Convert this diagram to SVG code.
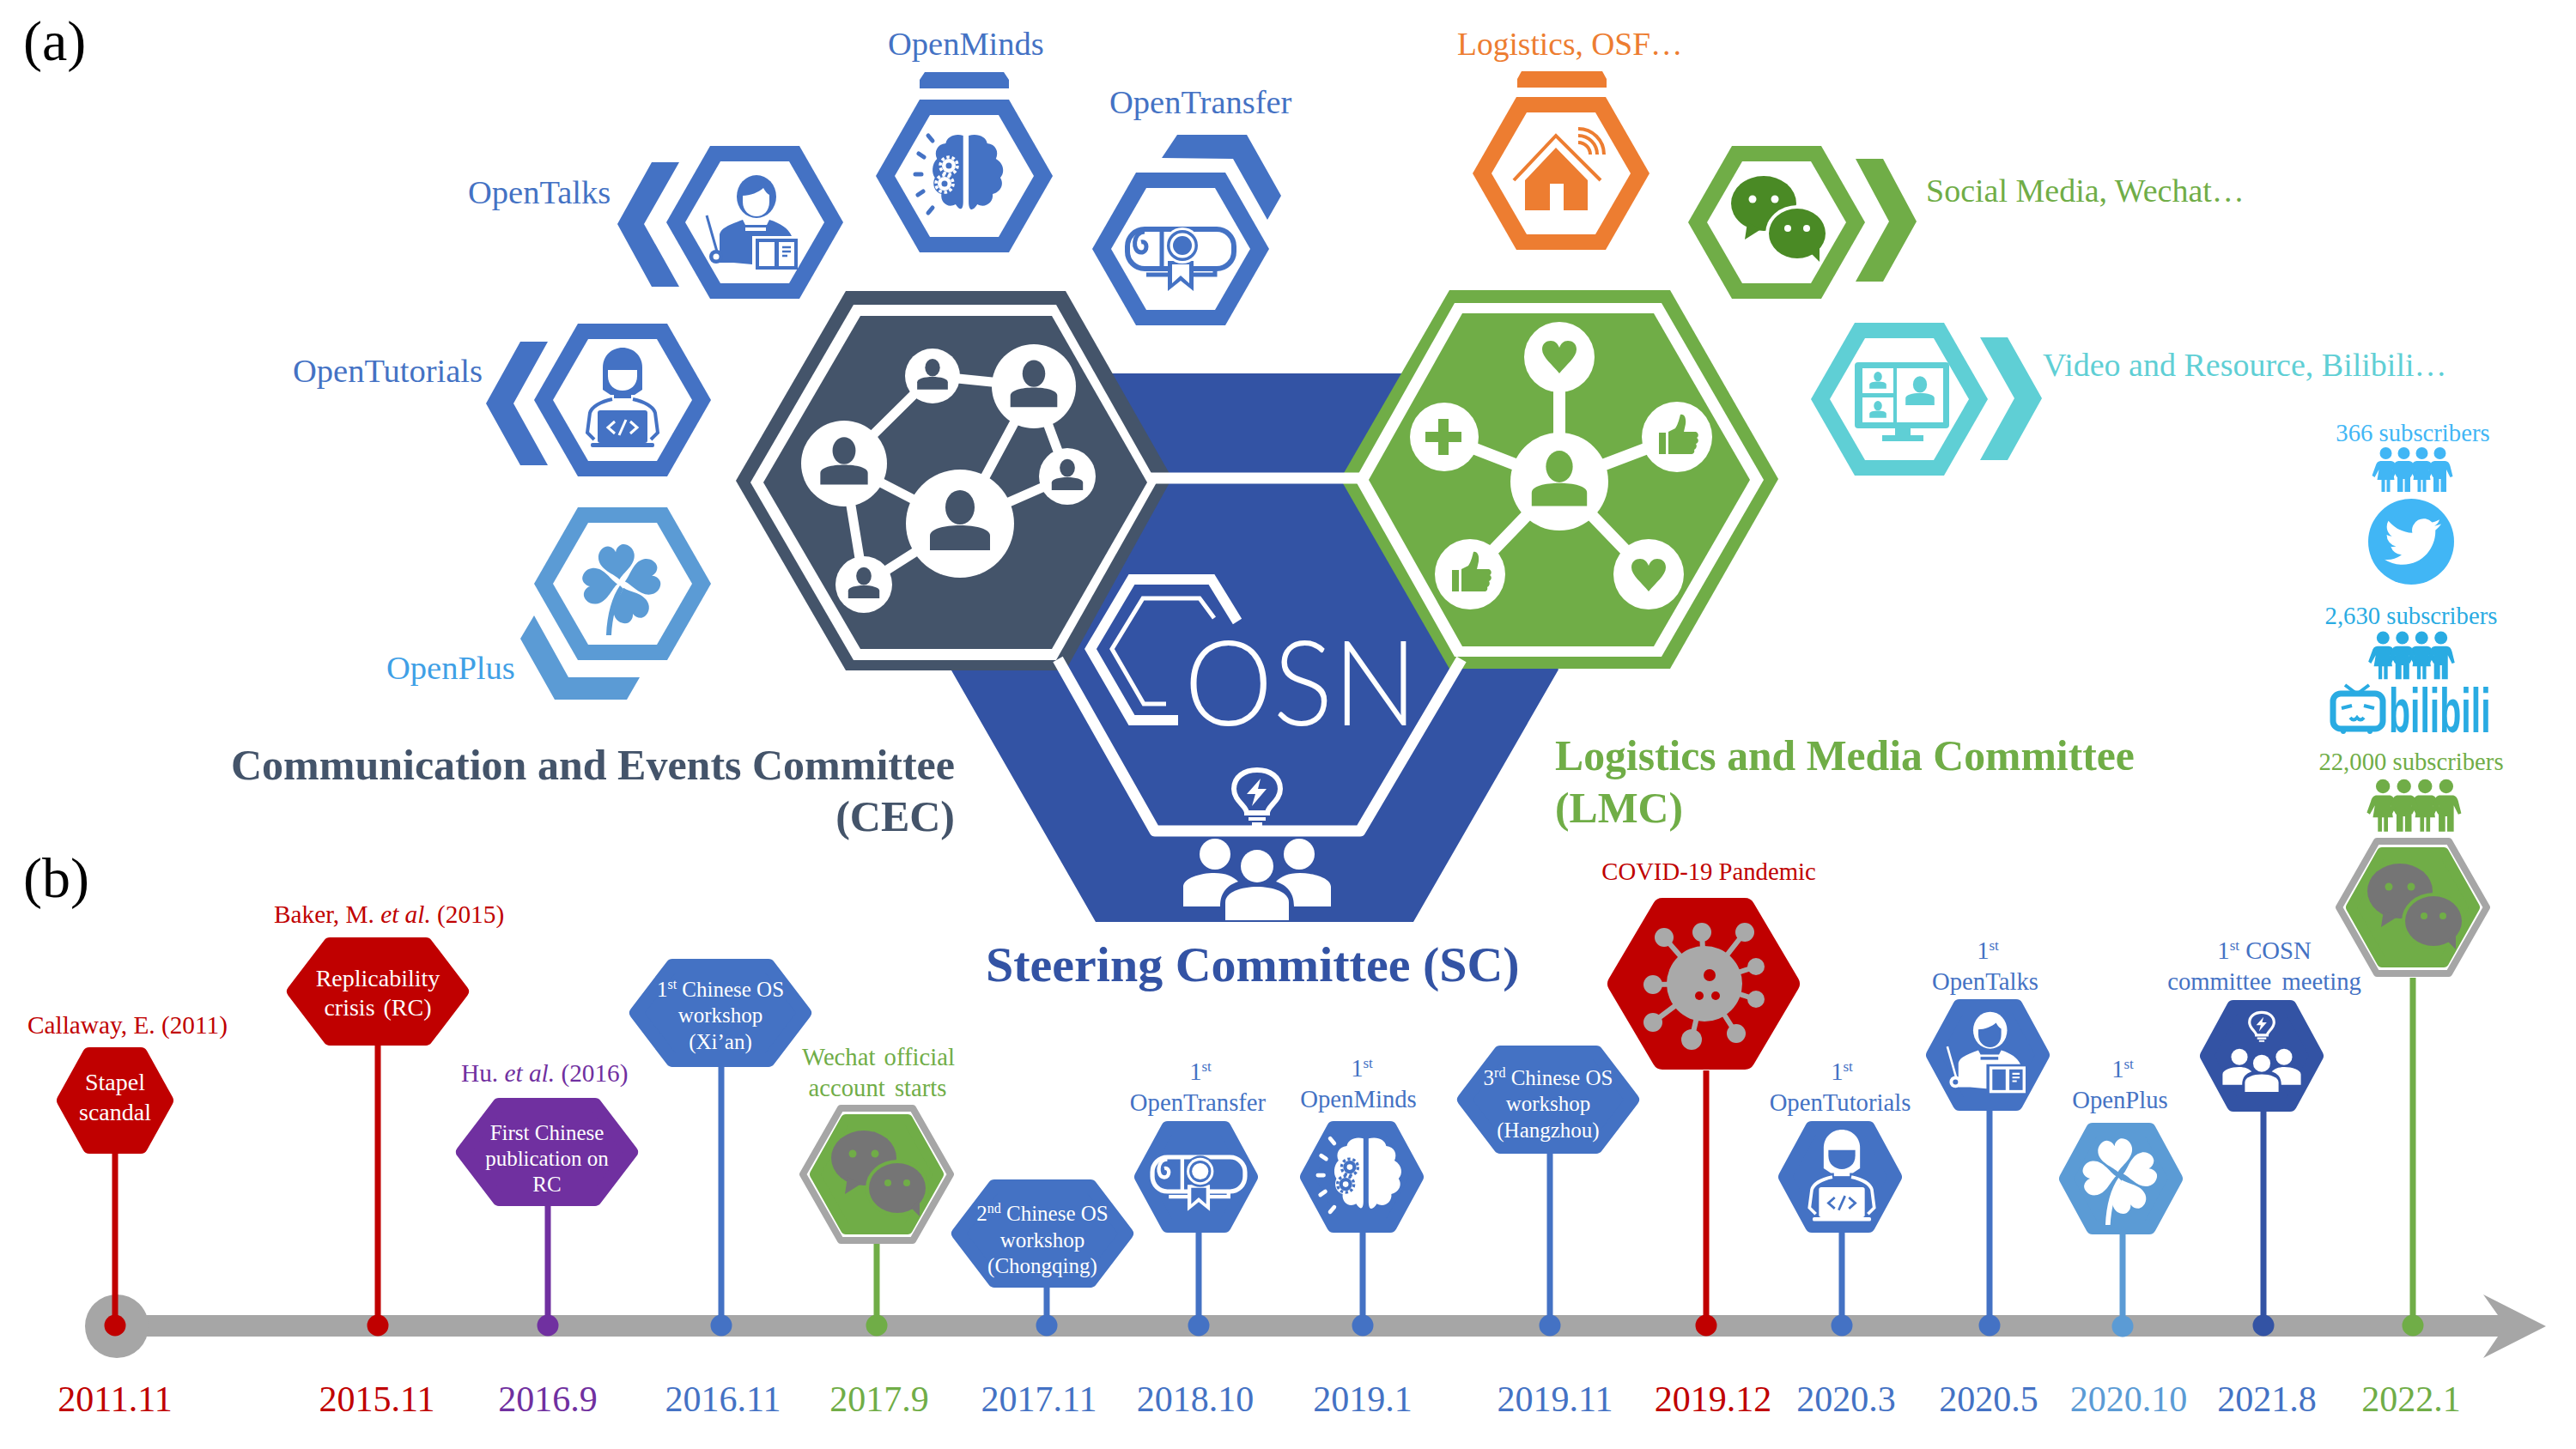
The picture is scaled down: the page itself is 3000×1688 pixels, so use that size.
<svg xmlns="http://www.w3.org/2000/svg" xmlns:xlink="http://www.w3.org/1999/xlink" width="3000" height="1688" viewBox="0 0 3000 1688">
<style>
text{font-family:"Liberation Serif","Times New Roman",serif}
.f{fill:currentColor}.b{fill:var(--bg)}
.fs{fill:none;stroke:currentColor}.bs{fill:none;stroke:var(--bg)}
.l38{font-size:38.5px}.l27{font-size:28.7px}.c29{font-size:29.3px}.l25{font-size:25px;fill:#fff;text-anchor:middle}.l28{font-size:28px;fill:#fff;text-anchor:middle}.d{font-size:42px;text-anchor:middle}
.h{font-weight:bold}.m{text-anchor:middle}
.blue{fill:#4472C4}.red{fill:#C00000}.pur{fill:#7030A0}.grn{fill:#70AD47}.lb{fill:#5B9BD5}.nav{fill:#3353A4}.org{fill:#ED7D31}.teal{fill:#5FCFD5}.drk{fill:#44546A}
.sk-red{stroke:#C00000}.sk-pur{stroke:#7030A0}.sk-blue{stroke:#4472C4}.sk-grn{stroke:#70AD47}.sk-lb{stroke:#5B9BD5}.sk-nav{stroke:#3353A4}
.rnd{stroke-width:16;stroke-linejoin:round}
.stem{stroke-width:7;fill:none}
.edge{stroke:#fff;stroke-width:11;fill:none}
.edge2{stroke:#fff;stroke-width:14;fill:none}
.onw{--bg:#fff}
</style>
<defs>
<polygon id="hO" points="-103,0 -52,-89 52,-89 103,0 52,89 -52,89"/>
<polygon id="hI" points="-81,0 -40,-71 40,-71 81,0 40,71 -40,71" fill="#fff"/>
<polygon id="hA" points="-98,0 -56,-55 56,-55 98,0 56,55 -56,55"/>
<polygon id="hB" points="-64,0 -33,-57 33,-57 64,0 33,57 -33,57"/>
<g id="p"><ellipse class="f" cx="0" cy="-19" rx="17" ry="20"/><path class="f" d="M-35,31V14C-35,6-18,2 0,2C18,2 35,6 35,14V31Z"/></g>
<path id="heart" d="M0,21C-8,11-20,2-20,-7C-20,-14-15,-17-10,-17C-5,-17-2,-14 0,-9C2,-14 5,-17 10,-17C15,-17 20,-14 20,-7C20,2 8,11 0,21Z"/>
<g id="thumb"><rect x="-21" y="-7" width="8" height="25"/><path d="M-10,-8L-2,-12C2,-18 3,-25 4,-28C8,-29 11,-25 10,-17L8,-8H22C26,-6 25,-2 23,-1C26,1 25,5 22,6C24,9 22,12 20,13C21,16 19,18 17,18H-10Z"/></g>
<path id="leaf" class="f" d="M0,-3C-5,-10-21,-17-21,-30C-21,-39-13,-44-8,-43C-4,-42-1,-39 0,-35C1,-39 4,-42 8,-43C13,-44 21,-39 21,-30C21,-17 5,-10 0,-3Z"/>
<g id="gear"><circle class="b" r="8"/><circle class="bs" r="10" stroke-width="3.5" stroke-dasharray="3.5 2.8"/><circle class="f" r="3.5"/></g>
<g id="i-teacher">
<ellipse class="f" cx="2" cy="-30" rx="23" ry="25"/>
<path class="b" d="M-14,-31C-6,-31 5,-35 10,-40C12,-36 15,-33 17,-32V-24C17,-13 10,-7 2,-7C-6,-7-14,-13-14,-24Z"/>
<path class="f" d="M-41,47V16C-41,7-30,3-14,-3L-11,3H14L17,-3C30,1 39,7 43,16H-3V49L-25,47Z"/>
<path class="b" d="M-11,6H13V10H-11Z"/>
<path class="fs" stroke-width="3" d="M-56,-8L-44,34"/>
<circle cx="-45" cy="40" r="8" class="f"/><circle cx="-45" cy="40" r="3.5" class="b"/>
<rect x="1" y="19" width="49" height="36" class="f"/>
<rect x="5" y="23" width="18" height="28" class="b"/><rect x="28" y="23" width="18" height="28" class="b"/>
<path class="fs" stroke-width="2.5" d="M32,29H42M32,34H42M32,39H38"/>
</g>
<g id="i-brain">
<g transform="scale(1.27,1)"><path class="f" d="M4,-47C12,-50 20,-46 21,-38C29,-37 32,-28 29,-20C37,-14 37,-3 33,2C37,10 33,19 26,21C27,31 19,38 12,33C8,41 4,42 4,30Z"/>
<path class="f" d="M-1,-47C-8,-50-16,-46-17,-38C-25,-37-28,-28-25,-20C-30,-14-30,-3-27,2C-30,10-27,19-21,21C-22,31-15,38-8,33C-4,41-1,40-1,30Z"/></g>
<use href="#gear" x="-18" y="-12"/><use href="#gear" x="-23" y="9"/>
<g class="fs" stroke-width="5" stroke-linecap="round"><path d="M-42,-47L-37,-41M-53,-26L-47,-22M-57,-2H-50M-54,22L-48,18M-42,43L-37,37"/></g>
</g>
<g id="i-diploma">
<rect class="fs" x="-62" y="-23" width="124" height="46" rx="20" stroke-width="6"/>
<path class="fs" stroke-width="5" d="M-42,-20C-56,-20-57,4-46,4C-38,4-38,-10-46,-8"/>
<path class="fs" stroke-width="5" d="M-22,-23V23M40,23V30H-40"/>
<polygon class="f" points="-15,14 15,14 15,49 0,37 -15,49"/>
<polygon class="b" points="-10,18 10,18 10,40 0,31 -10,40"/>
<circle class="b" cx="2" cy="-4" r="21"/>
<circle class="f" cx="2" cy="-4" r="18"/><circle class="b" cx="2" cy="-4" r="14.5"/><circle class="f" cx="2" cy="-4" r="11"/>
</g>
<g id="i-tutor">
<path class="f" d="M-23,-12V-38C-23,-52-12,-61 0,-61C12,-61 23,-52 23,-38V-12L14,-6H-14Z"/>
<path class="b" d="M-17,-35H17V-28C17,-17 9,-11 0,-11C-9,-11-17,-17-17,-28Z"/>
<rect class="f" x="-10" y="-8" width="20" height="6"/>
<path class="fs" stroke-width="4" d="M-12,-1C-26,2-36,8-38,15L-41,38L-33,46M12,-1C26,2 36,8 38,15L41,38L33,46"/>
<rect class="f" x="-29" y="12" width="58" height="38" rx="3"/><rect class="f" x="-37" y="50" width="74" height="5" rx="2"/>
<path class="bs" stroke-width="3" d="M-9,25L-17,32L-9,39M9,25L17,32L9,39M-4,41L4,23"/>
</g>
<g id="i-clover">
<path class="f" d="M-3,2C-12,15-18,35-19,60H-13C-12,40-7,20 1,6Z"/>
<use href="#leaf" transform="translate(-3,-2) rotate(-8)"/>
<use href="#leaf" transform="translate(0,-2) rotate(78)"/>
<use href="#leaf" transform="translate(0,2) rotate(160)"/>
<use href="#leaf" transform="translate(-3,0) rotate(265)"/>
</g>
<g id="i-wechat">
<ellipse class="f" cx="-15" cy="-22" rx="38" ry="32"/><path class="f" d="M-34,0L-37,20L-18,8Z"/>
<ellipse class="b" cx="24" cy="13" rx="37" ry="33"/>
<ellipse class="f" cx="24" cy="13" rx="33" ry="29"/><path class="f" d="M40,36L50,46L50,26Z"/>
<circle class="b" cx="-28" cy="-27" r="4.5"/><circle class="b" cx="-2" cy="-27" r="4.5"/><circle class="b" cx="13" cy="7" r="4"/><circle class="b" cx="35" cy="7" r="4"/>
</g>
<g id="i-bulb">
<path class="fs" stroke-width="6" d="M-12,-38C-12,-46-27,-52-27,-66C-27,-80-15,-88 0,-88C15,-88 27,-80 27,-66C27,-52 12,-46 12,-38Z"/>
<path class="f" d="M4,-78L-12,-60H-2L-6,-46L11,-66H1Z"/>
<path class="fs" stroke-width="4" d="M-10,-31H10M-6,-25H6"/>
<circle class="f" cx="-49" cy="10" r="18"/><circle class="f" cx="49" cy="10" r="18"/>
<path class="f" d="M-86,71V48C-86,38-66,32-50,32C-36,32-28,36-22,42C-34,46-43,54-43,71Z"/>
<path class="f" d="M86,71V48C86,38 66,32 50,32C36,32 28,36 22,42C34,46 43,54 43,71Z"/>
<circle class="f" cx="0" cy="24" r="19"/>
<path class="f" d="M-37,87V66C-37,54-18,48 0,48C18,48 37,54 37,66V87Z"/>
</g>
<path id="fem" class="f" d="M-6,9C-9,9-11,11-12,15L-16,26L-13,28L-8,19L-10,31H-5V45H-1V31H1V45H5V31H10L8,19L13,28L16,26L12,15C11,11 9,9 6,9Z"/>
<path id="mal" class="f" d="M-6,9C-9,9-11,11-12,15L-15,27L-12,28L-7.5,19V45H-1V30H1V45H7.5V19L12,28L15,27L12,15C11,11 9,9 6,9Z"/>
<g id="ppl">
<circle class="f" cx="-31.5" cy="0" r="7"/><circle class="f" cx="-10.5" cy="0" r="7"/><circle class="f" cx="10.5" cy="0" r="7"/><circle class="f" cx="31.5" cy="0" r="7"/>
<use href="#fem" x="-31.5"/><use href="#fem" x="10.5"/><use href="#mal" x="-10.5"/><use href="#mal" x="31.5"/>
</g>
</defs>
<rect width="3000" height="1688" fill="#fff"/>
<text x="27" y="70" font-size="66">(a)</text>
<text x="27" y="1045" font-size="66">(b)</text>

<g id="sc-node">
<polygon class="nav" points="1293,435 1632,435 1700,600 1815,780 1646,1074 1276,1074 1108,781 1220,600"/>
</g>
<g id="cec-node">
<polygon class="drk" points="857,560 985,339 1241,339 1365,557 1241,781 985,781"/>
<polygon fill="#fff" points="874,562 994,355 1230,355 1347,562 1230,769 994,769"/>
<polygon class="drk" points="889,562 1002,368 1225,368 1336,562 1225,756 1002,756"/>
<g class="edge"><path d="M983,540L1086,438L1204,450L1243,555L1118,610L983,540L1006,681L1118,610L1204,450"/></g>
<g fill="#fff"><circle cx="1118" cy="610" r="63"/><circle cx="983" cy="540" r="50"/><circle cx="1086" cy="438" r="32"/><circle cx="1204" cy="450" r="49"/><circle cx="1243" cy="555" r="33"/><circle cx="1006" cy="681" r="33"/></g>
<g style="color:#44546A">
<use href="#p" transform="translate(1118,610)"/>
<use href="#p" transform="translate(983,540) scale(.79)"/>
<use href="#p" transform="translate(1086,438) scale(.51)"/>
<use href="#p" transform="translate(1204,450) scale(.78)"/>
<use href="#p" transform="translate(1243,555) scale(.52)"/>
<use href="#p" transform="translate(1006,681) scale(.52)"/>
</g>
</g>
<g id="lmc-node">
<polygon class="grn" points="1561,558 1688,338 1945,338 2071,558 1945,779 1688,779"/>
<polygon fill="#fff" points="1578,559 1694,353 1935,353 2054,559 1935,765 1694,765"/>
<polygon class="grn" points="1594,559 1703,365 1926,365 2038,559 1926,753 1703,753"/>
<path class="edge2" d="M1816,416V561M1682,509L1816,561L1953,509M1712,669L1816,561L1920,669"/>
<g fill="#fff"><circle cx="1816" cy="561" r="57"/><circle cx="1816" cy="416" r="41"/><circle cx="1682" cy="509" r="40"/><circle cx="1953" cy="509" r="41"/><circle cx="1712" cy="669" r="41"/><circle cx="1920" cy="669" r="41"/></g>
<g class="grn" style="color:#70AD47">
<use href="#p" transform="translate(1816,561) scale(.92)"/>
<use href="#heart" transform="translate(1816,414)"/>
<use href="#heart" transform="translate(1920,668)"/>
<use href="#thumb" transform="translate(1953,511)"/>
<use href="#thumb" transform="translate(1712,671)"/>
<path d="M1675,488h12v15h15v12h-15v15h-12v-15h-15v-12h15z"/>
</g>
</g>
<g id="cosn-logo" fill="none" stroke="#fff">
<path stroke-width="13" d="M1340,557H1586"/>
<path stroke-width="13" stroke-linejoin="round" d="M1232,768L1345,968H1584L1702,768"/>
<path stroke-width="12" d="M1441,724L1411,675H1318L1270,756L1318,839H1372"/>
<path stroke-width="5" d="M1414,720L1397,697H1331L1295,756L1332,820H1358"/>
<text x="1379" y="845" font-size="138" textLength="272" lengthAdjust="spacingAndGlyphs" fill="#fff" stroke="none" style="font-family:Lato,'Open Sans',sans-serif;font-weight:300">OSN</text>
<use href="#i-bulb" transform="translate(1464,985)" stroke="none" style="color:#fff;--bg:#3353A4"/>
</g>
<text class="h drk" x="1112" y="908" font-size="50" text-anchor="end">Communication and Events Committee</text>
<text class="h drk" x="1112" y="968" font-size="50" text-anchor="end">(CEC)</text>
<text class="h grn" x="1821" y="897" font-size="49.7" dx="-10">Logistics and Media Committee</text>
<text class="h grn" x="1811" y="958" font-size="49.7">(LMC)</text>
<text class="h nav" x="1148" y="1143" font-size="58">Steering Committee (SC)</text>

<g id="openminds" class="blue onw" style="color:#4472C4">
<polygon points="1071,93 1077,84 1169,84 1175,93 1175,103 1071,103"/>
<use href="#hO" x="1123" y="205"/><use href="#hI" x="1123" y="205"/>
<use href="#i-brain" transform="translate(1123,205)"/>
<text class="l38 blue" x="1034" y="64">OpenMinds</text>
</g>
<g id="opentalks" class="blue onw" style="color:#4472C4">
<polygon points="791,189 759,189 719,261 759,334 791,334 750,261"/>
<use href="#hO" x="879" y="259"/><use href="#hI" x="879" y="259"/>
<use href="#i-teacher" transform="translate(879,259)"/>
<text class="l38 blue" x="545" y="237">OpenTalks</text>
</g>
<g id="opentransfer" class="blue onw" style="color:#4472C4">
<polygon points="1353,184 1371,157 1452,157 1492,228 1476,256 1436,185"/>
<use href="#hO" x="1375" y="290"/><use href="#hI" x="1375" y="290"/>
<use href="#i-diploma" transform="translate(1375,290)"/>
<text class="l38 blue" x="1292" y="132">OpenTransfer</text>
</g>
<g id="opentutorials" class="blue onw" style="color:#4472C4">
<polygon points="638,398 606,398 566,470 606,542 638,542 598,470"/>
<use href="#hO" x="725" y="466"/><use href="#hI" x="725" y="466"/>
<use href="#i-tutor" transform="translate(725,466)"/>
<text class="l38 blue" x="341" y="445">OpenTutorials</text>
</g>
<g id="openplus" class="lb onw" style="color:#5B9BD5">
<polygon points="622,717 606,744 646,815 730,815 745,789 662,789"/>
<use href="#hO" x="725" y="680"/><use href="#hI" x="725" y="680"/>
<use href="#i-clover" transform="translate(725,680)"/>
<text class="l38" x="450" y="791" fill="#3FA0E6">OpenPlus</text>
</g>
<g id="logistics" class="org onw" style="color:#ED7D31">
<polygon points="1767,92 1772,83 1866,83 1871,92 1871,102 1767,102"/>
<use href="#hO" x="1818" y="202"/><use href="#hI" x="1818" y="202"/>
<g transform="translate(1818,202)">
<path class="f" d="M-42,8L-6,-30L31,8V43H3V12H-13V43H-42Z"/>
<path class="fs" stroke-width="4" d="M-55,8L-6,-44L46,8"/>
<path class="fs" stroke-width="4" d="M20,-36A14,14 0 0 1 34,-22M20,-44A22,22 0 0 1 42,-22M20,-52A30,30 0 0 1 50,-22"/>
</g>
<text class="org" x="1697" y="64" style="font-size:37.5px">Logistics, OSF…</text>
</g>
<g id="social" class="grn" style="color:#4A8A25;--bg:#fff">
<polygon points="2161,185 2193,185 2232,258 2193,328 2161,328 2200,258"/>
<use href="#hO" x="2069" y="259"/><use href="#hI" x="2069" y="259"/>
<use href="#i-wechat" transform="translate(2069,259)"/>
<text class="grn" x="2243" y="235" style="font-size:38px">Social Media, Wechat…</text>
</g>
<g id="video" class="teal onw" style="color:#5FCFD5">
<polygon points="2306,393 2338,393 2378,464 2338,536 2306,536 2346,464"/>
<use href="#hO" x="2212" y="465"/><use href="#hI" x="2212" y="465"/>
<g transform="translate(2212,465)">
<rect class="f" x="-52" y="-43" width="110" height="77" rx="4"/>
<rect class="b" x="-43" y="-36" width="36" height="29"/><rect class="b" x="-43" y="-2" width="36" height="29"/><rect class="b" x="-3" y="-36" width="54" height="63"/>
<use href="#p" transform="translate(-25,-21) scale(.28)"/><use href="#p" transform="translate(-25,13) scale(.28)"/><use href="#p" transform="translate(24,-8) scale(.48)"/>
<rect class="f" x="-5" y="34" width="18" height="9"/><rect class="f" x="-20" y="42" width="48" height="7"/>
</g>
<text class="teal" x="2379" y="438" style="font-size:38px">Video and Resource, Bilibili…</text>
</g>

<g id="twitter">
<text class="l27 m" x="2810" y="514" fill="#41B6F5">366 subscribers</text>
<use href="#ppl" transform="translate(2810,528)" style="color:#41B6F5"/>
<circle cx="2808" cy="631" r="50" fill="#41B6F5"/>
<path fill="#fff" transform="translate(2777,598) scale(2.75)" d="M23.953 4.57a10 10 0 01-2.825.775 4.958 4.958 0 002.163-2.723c-.951.555-2.005.959-3.127 1.184a4.92 4.92 0 00-8.384 4.482C7.69 8.095 4.067 6.13 1.64 3.162a4.822 4.822 0 00-.666 2.475c0 1.71.87 3.213 2.188 4.096a4.904 4.904 0 01-2.228-.616v.06a4.923 4.923 0 003.946 4.827 4.996 4.996 0 01-2.212.085 4.936 4.936 0 004.604 3.417 9.867 9.867 0 01-6.102 2.105c-.39 0-.779-.023-1.17-.067a13.995 13.995 0 007.557 2.209c9.053 0 13.998-7.496 13.998-13.985 0-.21 0-.42-.015-.63A9.935 9.935 0 0024 4.59z"/>
</g>
<g id="bilibili">
<text class="l27 m" x="2808" y="727" fill="#29ABE2">2,630 subscribers</text>
<use href="#ppl" transform="translate(2809,743) scale(1.07)" style="color:#29ABE2"/>
<rect x="2717" y="808" width="58" height="41" rx="9" fill="none" stroke="#29ABE2" stroke-width="7"/>
<path fill="none" stroke="#29ABE2" stroke-width="4" d="M2731,798L2743,807M2759,798L2747,807M2727,825L2739,822M2765,825L2753,822M2737,836Q2741,841 2745,836Q2749,841 2753,836"/>
<circle cx="2729" cy="852" r="3" fill="#29ABE2"/><circle cx="2760" cy="852" r="3" fill="#29ABE2"/>
<text transform="translate(2782,853) scale(.57,1)" font-size="72" fill="#29ABE2" style="font-family:'Liberation Sans',Arial,sans-serif;font-weight:bold">bilibili</text>
</g>
<g id="wechat-count">
<text class="l27 m grn" x="2808" y="897">22,000 subscribers</text>
<use href="#ppl" transform="translate(2812,916) scale(1.17)" style="color:#70AD47"/>
</g>

<g id="connectors">
<polygon fill="#A6A6A6" points="136,1532 2909,1532 2892,1508 2965,1545 2892,1582 2909,1557 136,1557"/>
<circle cx="136" cy="1545" r="37" fill="#A6A6A6"/>
<g class="stem">
<path class="sk-red" d="M134,1344V1544M440,1218V1544M1987,1247V1544"/>
<path class="sk-pur" d="M638,1404V1544"/>
<path class="sk-blue" d="M840,1243V1544M1219,1500V1544M1396,1436V1544M1587,1436V1544M1805,1343V1544M2145,1435V1544M2317,1293V1544"/>
<path class="sk-grn" d="M1021,1449V1544M2810,1139V1544"/>
<path class="sk-lb" d="M2472,1438V1544"/>
<path class="sk-nav" d="M2636,1294V1544"/>
</g>
<g class="red"><circle cx="134" cy="1544" r="12.5"/><circle cx="440" cy="1544" r="12.5"/><circle cx="1987" cy="1544" r="12.5"/></g>
<circle class="pur" cx="638" cy="1544" r="12.5"/>
<g class="blue"><circle cx="840" cy="1544" r="12.5"/><circle cx="1219" cy="1544" r="12.5"/><circle cx="1396" cy="1544" r="12.5"/><circle cx="1587" cy="1544" r="12.5"/><circle cx="1805" cy="1544" r="12.5"/><circle cx="2145" cy="1544" r="12.5"/><circle cx="2317" cy="1544" r="12.5"/></g>
<g class="grn"><circle cx="1021" cy="1544" r="12.5"/><circle cx="2810" cy="1544" r="12.5"/></g>
<circle class="lb" cx="2472" cy="1545" r="12.5"/>
<circle class="nav" cx="2636" cy="1544" r="12.5"/>
</g>

<g id="t2011">
<polygon class="red sk-red rnd" points="-60,0 -30,-54 30,-54 60,0 30,54 -30,54" transform="translate(134,1282)"/>
<text class="l28" x="134" y="1270">Stapel</text><text class="l28" x="134" y="1305">scandal</text>
<text class="c29 red" x="32" y="1204">Callaway, E. (2011)</text>
<text class="d red" x="134" y="1644">2011.11</text>
</g>
<g id="t2015">
<use href="#hA" class="red sk-red rnd" x="440" y="1155"/>
<text class="l28" x="440" y="1149">Replicability</text><text class="l28" x="440" y="1183" word-spacing="3">crisis (RC)</text>
<text class="c29 red" x="319" y="1075">Baker, M. <tspan font-style="italic">et al.</tspan> (2015)</text>
<text class="d red" x="439" y="1644">2015.11</text>
</g>
<g id="t2016a">
<use href="#hA" class="pur sk-pur rnd" x="637" y="1342"/>
<text class="l25" x="637" y="1328">First Chinese</text><text class="l25" x="637" y="1358">publication on</text><text class="l25" x="637" y="1388">RC</text>
<text class="c29 pur" x="537" y="1260">Hu. <tspan font-style="italic">et al.</tspan> (2016)</text>
<text class="d pur" x="638" y="1644">2016.9</text>
</g>
<g id="t2016b">
<use href="#hA" class="blue sk-blue rnd" x="839" y="1180"/>
<text class="l25" x="839" y="1161">1<tspan font-size="16" dy="-9">st</tspan><tspan dy="9"> Chinese OS</tspan></text><text class="l25" x="839" y="1191">workshop</text><text class="l25" x="839" y="1222">(Xi’an)</text>
<text class="d blue" x="842" y="1644">2016.11</text>
</g>
<g id="t2017a" style="color:#757575;--bg:#70AD47">
<polygon fill="#fff" stroke="#A6A6A6" stroke-width="8" stroke-linejoin="round" points="-86,0 -42,-77 42,-77 86,0 42,77 -42,77" transform="translate(1021,1368)"/>
<polygon class="grn" stroke="#70AD47" stroke-width="12" stroke-linejoin="round" points="-72,0 -36,-64 36,-64 72,0 36,64 -36,64" transform="translate(1021,1368)"/>
<use href="#i-wechat" transform="translate(1021,1371)"/>
<text class="l27 m grn" x="1023" y="1241" word-spacing="3">Wechat official</text><text class="l27 m grn" x="1022" y="1277" word-spacing="4">account starts</text>
<text class="d grn" x="1024" y="1644">2017.9</text>
</g>
<g id="t2017b">
<use href="#hA" class="blue sk-blue rnd" x="1214" y="1437"/>
<text class="l25" x="1214" y="1422">2<tspan font-size="16" dy="-9">nd</tspan><tspan dy="9"> Chinese OS</tspan></text><text class="l25" x="1214" y="1453">workshop</text><text class="l25" x="1214" y="1483">(Chongqing)</text>
<text class="d blue" x="1210" y="1644">2017.11</text>
</g>
<g id="t2018" style="color:#fff;--bg:#4472C4">
<use href="#hB" class="blue sk-blue rnd" x="1393" y="1371"/>
<use href="#i-diploma" transform="translate(1396,1368) scale(.87)"/>
<text class="l27 m blue" x="1398" y="1258">1<tspan font-size="17" dy="-10">st</tspan></text>
<text class="l27 m blue" x="1395" y="1294">OpenTransfer</text>
<text class="d blue" x="1392" y="1644">2018.10</text>
</g>
<g id="t2019a" style="color:#fff;--bg:#4472C4">
<use href="#hB" class="blue sk-blue rnd" x="1586" y="1371"/>
<use href="#i-brain" transform="translate(1589,1371) scale(.95)"/>
<text class="l27 m blue" x="1586" y="1254">1<tspan font-size="17" dy="-10">st</tspan></text>
<text class="l27 m blue" x="1582" y="1290">OpenMinds</text>
<text class="d blue" x="1587" y="1644">2019.1</text>
</g>
<g id="t2019b">
<use href="#hA" class="blue sk-blue rnd" x="1803" y="1281"/>
<text class="l25" x="1803" y="1264">3<tspan font-size="16" dy="-9">rd</tspan><tspan dy="9"> Chinese OS</tspan></text><text class="l25" x="1803" y="1294">workshop</text><text class="l25" x="1803" y="1325">(Hangzhou)</text>
<text class="d blue" x="1811" y="1644">2019.11</text>
</g>
<g id="t2019c">
<polygon class="red" stroke="#C00000" stroke-width="24" stroke-linejoin="round" points="-100,0 -48,-88 48,-88 100,0 48,88 -48,88" transform="translate(1984,1146)"/>
<g transform="translate(1985,1146)" fill="#A9A9A9">
<path stroke="#A9A9A9" stroke-width="6" d="M0,0L-47,-54M0,0L-3,-60M0,0L-60,1M0,0L-60,45M0,0L-15,65M0,0L47,-60M0,0L60,-20M0,0L60,18M0,0L37,58"/>
<circle r="44"/>
<circle cx="-47" cy="-54" r="11"/><circle cx="-3" cy="-60" r="11"/><circle cx="-60" cy="1" r="11"/><circle cx="-60" cy="45" r="11"/><circle cx="-15" cy="65" r="12"/><circle cx="47" cy="-60" r="11"/><circle cx="60" cy="-20" r="10"/><circle cx="60" cy="18" r="10"/><circle cx="37" cy="58" r="11"/>
<g fill="#C00000"><circle cx="6" cy="-10" r="7"/><circle cx="-6" cy="14" r="5"/><circle cx="13" cy="14" r="5"/></g>
</g>
<text class="l27 m red" x="1990" y="1025">COVID-19 Pandemic</text>
<text class="d red" x="1995" y="1644">2019.12</text>
</g>
<g id="t2020a" style="color:#fff;--bg:#4472C4">
<use href="#hB" class="blue sk-blue rnd" x="2143" y="1371"/>
<use href="#i-tutor" transform="translate(2145,1372) scale(.92)"/>
<text class="l27 m blue" x="2145" y="1258">1<tspan font-size="17" dy="-10">st</tspan></text>
<text class="l27 m blue" x="2143" y="1294">OpenTutorials</text>
<text class="d blue" x="2150" y="1644">2020.3</text>
</g>
<g id="t2020b" style="color:#fff;--bg:#4472C4">
<use href="#hB" class="blue sk-blue rnd" x="2315" y="1229"/>
<use href="#i-teacher" transform="translate(2316,1226) scale(.86)"/>
<text class="l27 m blue" x="2315" y="1117">1<tspan font-size="17" dy="-10">st</tspan></text>
<text class="l27 m blue" x="2312" y="1153">OpenTalks</text>
<text class="d blue" x="2316" y="1644">2020.5</text>
</g>
<g id="t2020c" style="color:#fff;--bg:#5B9BD5">
<use href="#hB" class="lb sk-lb rnd" x="2470" y="1373"/>
<use href="#i-clover" transform="translate(2470,1370) scale(.95)"/>
<text class="l27 m blue" x="2472" y="1255">1<tspan font-size="17" dy="-10">st</tspan></text>
<text class="l27 m blue" x="2469" y="1291">OpenPlus</text>
<text class="d lb" x="2479" y="1644">2020.10</text>
</g>
<g id="t2021" style="color:#fff;--bg:#3353A4">
<use href="#hB" class="nav sk-nav rnd" x="2634" y="1230"/>
<use href="#i-bulb" transform="translate(2634,1226) scale(.53)"/>
<text class="l27 m blue" x="2637" y="1117">1<tspan font-size="17" dy="-10">st</tspan><tspan dy="10"> COSN</tspan></text>
<text class="l27 m blue" x="2637" y="1153" word-spacing="5">committee meeting</text>
<text class="d blue" x="2640" y="1644">2021.8</text>
</g>
<g id="t2022" style="color:#757575;--bg:#70AD47">
<polygon fill="#fff" stroke="#A6A6A6" stroke-width="8" stroke-linejoin="round" points="-86,0 -42,-77 42,-77 86,0 42,77 -42,77" transform="translate(2810,1057)"/>
<polygon class="grn" stroke="#70AD47" stroke-width="12" stroke-linejoin="round" points="-72,0 -36,-64 36,-64 72,0 36,64 -36,64" transform="translate(2810,1057)"/>
<use href="#i-wechat" transform="translate(2810,1060)"/>
<text class="d grn" x="2808" y="1644">2022.1</text>
</g>
</svg>
